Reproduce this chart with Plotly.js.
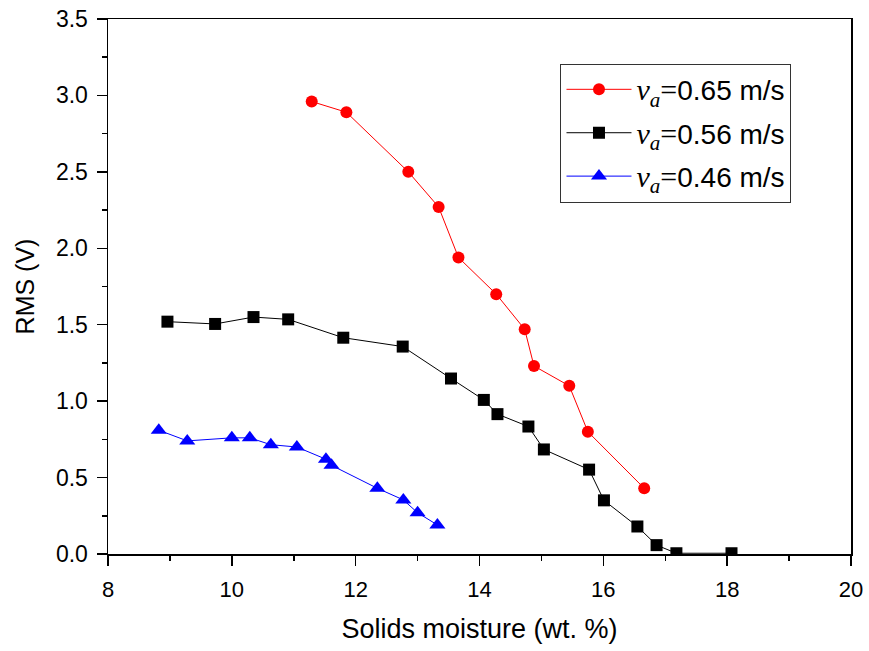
<!DOCTYPE html>
<html>
<head>
<meta charset="utf-8">
<script src="https://cdn.plot.ly/plotly-3.0.1.min.js"></script>
<style>html,body{margin:0;padding:0;background:#fff;}#chart{width:869px;height:651px;}</style>
</head>
<body>
<div id="chart"></div>
<script>
// Series: v_a = 0.65 m/s
const x065 = [11.29, 11.85, 12.85, 13.34, 13.66, 14.27, 14.73, 14.88, 15.45, 15.75, 16.66];
const y065 = [2.96, 2.89, 2.50, 2.27, 1.94, 1.70, 1.47, 1.23, 1.10, 0.80, 0.43];
// Series: v_a = 0.56 m/s
const x056 = [8.96, 9.73, 10.35, 10.91, 11.80, 12.76, 13.54, 14.07, 14.29, 14.79, 15.04, 15.77, 16.01, 16.55, 16.86, 17.18, 18.07];
const y056 = [1.52, 1.505, 1.55, 1.535, 1.415, 1.357, 1.148, 1.008, 0.915, 0.834, 0.684, 0.552, 0.351, 0.18, 0.058, 0.005, 0.005];
// Series: v_a = 0.46 m/s
const x046 = [8.82, 9.28, 10.0, 10.29, 10.63, 11.05, 11.52, 11.61, 12.35, 12.77, 13.0, 13.32];
const y046 = [0.81, 0.74, 0.76, 0.76, 0.715, 0.70, 0.62, 0.58, 0.43, 0.354, 0.27, 0.19];

const names = ["0.65 m/s", "0.56 m/s", "0.46 m/s"];
const xTicks = [8, 10, 12, 14, 16, 18, 20];
const yTicks = [0.0, 0.5, 1.0, 1.5, 2.0, 2.5, 3.0, 3.5];

function label(s) {
  return '<span style="font-family:\'Liberation Serif\',\'DejaVu Serif\',serif;font-size:30px"><i>v</i><sub><i>a</i></sub>=</span>' + s;
}

const traces = [
  {x: x065, y: y065, name: label(names[0]), legendgroup: 'a', mode: 'lines+markers',
   line: {color: '#ff0000', width: 1}, marker: {symbol: 'circle', size: 12, color: '#ff0000'}},
  {x: x056, y: y056, name: label(names[1]), legendgroup: 'b', mode: 'lines+markers',
   line: {color: '#000000', width: 1}, marker: {symbol: 'square', size: 12, color: '#000000'}},
  {x: x046, y: y046, name: label(names[2]), legendgroup: 'c', mode: 'lines+markers',
   line: {color: '#0000ff', width: 1}, marker: {symbol: 'triangle-up', size: 14, color: '#0000ff'}}
];

const FONT = 'Liberation Sans, Arial, sans-serif';
const axisCommon = {
  showgrid: false, zeroline: false, showline: true, linecolor: '#000', linewidth: 1.5,
  mirror: true, ticks: 'outside', ticklen: 10, tickwidth: 1.5, tickcolor: '#000'
};

const layout = {
  width: 869, height: 651,
  margin: {l: 108, r: 18, t: 19, b: 97},
  paper_bgcolor: '#fff', plot_bgcolor: '#fff',
  showlegend: true,
  xaxis: Object.assign({}, axisCommon, {
    range: [8, 20], tickvals: xTicks, ticktext: xTicks.map(String),
    tickfont: {family: FONT, size: 22, color: '#000'}, ticklabelstandoff: 5,
    minor: {dtick: 1, ticks: 'outside', ticklen: 5, tickwidth: 1.5, tickcolor: '#000', showgrid: false},
    title: {text: 'Solids moisture (wt. %)', font: {family: FONT, size: 27, color: '#000'}, standoff: 18}
  }),
  yaxis: Object.assign({}, axisCommon, {
    range: [0, 3.5], tickvals: yTicks, ticktext: yTicks.map(v => v.toFixed(1)),
    tickfont: {family: FONT, size: 23, color: '#000'}, ticklabelstandoff: 4,
    minor: {dtick: 0.25, ticks: 'outside', ticklen: 5, tickwidth: 1.5, tickcolor: '#000', showgrid: false},
    title: {text: 'RMS (V)', font: {family: FONT, size: 25, color: '#000'}, standoff: 14}
  }),
  legend: {
    x: 0.609, y: 0.9166, xanchor: 'left', yanchor: 'top',
    bgcolor: '#fff', bordercolor: '#333', borderwidth: 1,
    font: {family: FONT, size: 28, color: '#000'},
    traceorder: 'grouped', tracegroupgap: 4, itemwidth: 65
  }
};

Plotly.newPlot('chart', traces, layout, {displayModeBar: false, staticPlot: true});
</script>
</body>
</html>
